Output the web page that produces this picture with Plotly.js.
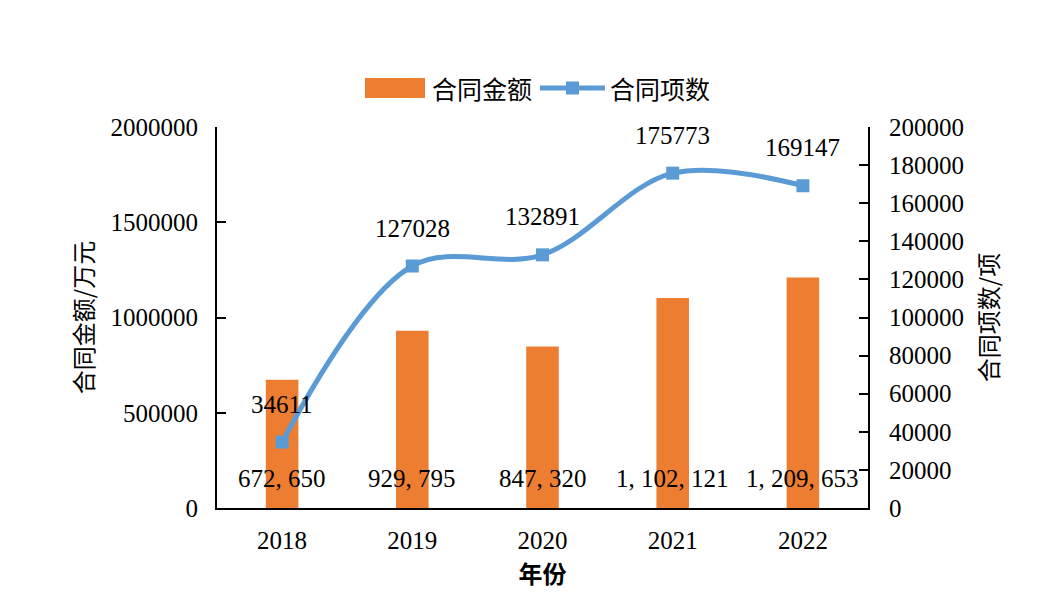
<!DOCTYPE html>
<html>
<head>
<meta charset="utf-8">
<script src="https://cdn.plot.ly/plotly-3.0.1.min.js"></script>
<style>html,body{margin:0;padding:0;background:#fff;}#chart{width:1040px;height:604px;}</style>
</head>
<body>
<div id="chart"></div>
<script>
const years = ['2018', '2019', '2020', '2021', '2022'];
const contractAmount = [672650, 929795, 847320, 1102121, 1209653];
const contractCount = [34611, 127028, 132891, 175773, 169147];
const leftTicks = [0, 500000, 1000000, 1500000, 2000000];
const rightTicks = [0, 20000, 40000, 60000, 80000, 100000, 120000, 140000, 160000, 180000, 200000];
const seriesNames = ['合同金额', '合同项数'];

const numFont = 'Liberation Serif, Times New Roman, serif';
const cjkFont = 'Noto Sans CJK SC, sans-serif';
const orange = '#ED7D31', blue = '#5B9BD5';

function fmt(v) { return v.toLocaleString('en-US').replace(/,/g, ', '); }
const idx = years.map((_, i) => i);

const bars = {
  type: 'bar', name: seriesNames[0], x: idx, y: contractAmount,
  marker: {color: orange}, width: 0.25, yaxis: 'y', hoverinfo: 'skip'
};
const line = {
  type: 'scatter', mode: 'lines+markers', name: seriesNames[1], x: idx, y: contractCount,
  yaxis: 'y2', line: {color: blue, width: 5, shape: 'spline', smoothing: 1},
  marker: {symbol: 'square', size: 13, color: blue}, hoverinfo: 'skip'
};

const annotations = [];
idx.forEach(i => {
  annotations.push({x: i, y: 0, xref: 'x', yref: 'y', yshift: 30, text: fmt(contractAmount[i]),
    showarrow: false, font: {family: numFont, size: 25, color: '#000'}});
  annotations.push({x: i, y: contractCount[i], xref: 'x', yref: 'y2', yshift: 38, text: String(contractCount[i]),
    showarrow: false, font: {family: numFont, size: 25, color: '#000'}});
});
function px(x) { return (x - 217) / 651; }
function py(y) { return (508 - y) / 381; }
// manual legend (text)
annotations.push({xref: 'paper', yref: 'paper', x: px(430), y: py(88), xanchor: 'left', yanchor: 'middle',
  text: seriesNames[0], showarrow: false, font: {family: cjkFont, size: 25, color: '#000'}});
annotations.push({xref: 'paper', yref: 'paper', x: px(608), y: py(88), xanchor: 'left', yanchor: 'middle',
  text: seriesNames[1], showarrow: false, font: {family: cjkFont, size: 25, color: '#000'}});

const shapes = [
  {type: 'rect', xref: 'paper', yref: 'paper', x0: px(365), x1: px(425), y0: py(98), y1: py(78), fillcolor: orange, line: {width: 0}},
  {type: 'line', xref: 'paper', yref: 'paper', x0: px(540), x1: px(605), y0: py(88), y1: py(88), line: {color: blue, width: 5}},
  {type: 'rect', xref: 'paper', yref: 'paper', x0: px(566), x1: px(579), y0: py(94.5), y1: py(81.5), fillcolor: blue, line: {width: 0}}
];

const layout = {
  width: 1040, height: 604,
  margin: {l: 217, r: 172, t: 127, b: 96},
  paper_bgcolor: '#fff', plot_bgcolor: '#fff',
  showlegend: false,
  xaxis: {
    range: [-0.5, 4.5], tickvals: idx, ticktext: years,
    showline: true, linecolor: '#000', linewidth: 2, ticks: '',
    showgrid: false, zeroline: false, ticklabelstandoff: 9,
    tickfont: {family: numFont, size: 25, color: '#000'},
    title: {text: '<b>年份</b>', font: {family: cjkFont, size: 24, color: '#000'}, standoff: 13}
  },
  yaxis: {
    range: [0, 2000000], tickvals: leftTicks, ticktext: leftTicks.map(String),
    showline: true, linecolor: '#000', linewidth: 2, ticks: 'inside', ticklen: 9, tickwidth: 2, tickcolor: '#000',
    showgrid: false, zeroline: false, ticklabelstandoff: 12,
    tickfont: {family: numFont, size: 25, color: '#000'},
    title: {text: '合同金额/万元', font: {family: cjkFont, size: 24, color: '#000'}, standoff: 10}
  },
  yaxis2: {
    range: [0, 200000], tickvals: rightTicks, ticktext: rightTicks.map(String),
    overlaying: 'y', side: 'right',
    showline: true, linecolor: '#000', linewidth: 2, ticks: 'inside', ticklen: 9, tickwidth: 2, tickcolor: '#000',
    showgrid: false, zeroline: false, ticklabelstandoff: 14,
    tickfont: {family: numFont, size: 25, color: '#000'},
    title: {text: '合同项数/项', font: {family: cjkFont, size: 24, color: '#000'}, standoff: 18}
  },
  shapes: shapes,
  annotations: annotations
};

Plotly.newPlot('chart', [bars, line], layout, {displayModeBar: false, staticPlot: true});
</script>
</body>
</html>
